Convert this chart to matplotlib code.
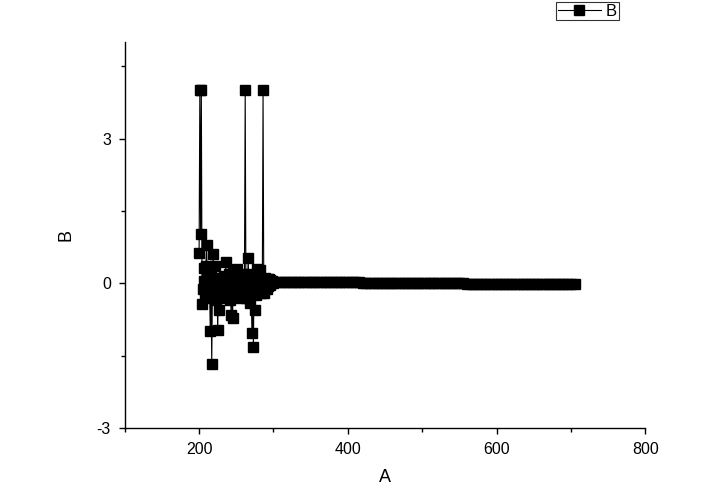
import numpy as np
import matplotlib
matplotlib.use("Agg")
import matplotlib.pyplot as plt

plt.rcParams["font.family"] = ["Liberation Sans", "DejaVu Sans"]
plt.rcParams["axes.unicode_minus"] = False

# noisy part, 1 unit steps
a_head = np.arange(200, 301)
b_head = [
    0.63, 4.0, 1.02, 4.0, -0.42, -0.12, 0.05, 0.32, -0.25, 0.35,
    0.80, 0.10, -0.30, 0.20, -0.05, -0.98, 0.15, -1.67, 0.02, 0.60,
    -0.20, 0.36, 0.08, -0.35, 0.12, -0.97, -0.10, -0.55, 0.05, -0.20,
    0.10, -0.15, 0.00, -0.30, 0.15, -0.08, 0.44, -0.20, 0.10, -0.10,
    0.20, -0.35, 0.05, -0.66, 0.12, -0.72, 0.25, -0.05, 0.18, -0.25,
    0.08, 0.30, -0.10, 0.05, -0.20, 0.15, -0.30, 0.10, -0.15, 0.20,
    -0.05, 0.12, 4.0, -0.30, 0.10, -0.20, 0.52, -0.10, 0.20, -0.40,
    0.05, -1.03, -0.20, -1.32, 0.15, -0.55, 0.08, -0.25, 0.30, -0.10,
    0.05, -0.15, 0.27, -0.20, 0.10, -0.05, 4.0, -0.20, 0.12, -0.08,
    0.06, -0.12, 0.08, -0.05, 0.10, -0.04, 0.06, 0.02, 0.04, 0.01,
    0.03,
]

# flat tail, 5 unit steps
a_tail = np.arange(305, 706, 5)
b_tail = [
    0.03, 0.02, 0.03, 0.02, 0.02, 0.03, 0.02, 0.02, 0.02, 0.02,
    0.02, 0.02, 0.02, 0.02, 0.02, 0.02, 0.02, 0.02, 0.02, 0.02,
    0.02, 0.02, 0.02, 0.01, 0.00, 0.00, 0.00, 0.00, 0.00, 0.00,
    0.00, 0.00, 0.00, 0.00, 0.00, 0.00, 0.00, 0.00, 0.00, 0.00,
    0.00, 0.00, 0.00, 0.00, 0.00, 0.00, 0.00, 0.00, 0.00, 0.00,
    0.00, -0.01, -0.02, -0.02, -0.02, -0.02, -0.02, -0.02, -0.02, -0.02,
    -0.02, -0.02, -0.02, -0.02, -0.02, -0.02, -0.02, -0.02, -0.02, -0.02,
    -0.02, -0.02, -0.02, -0.02, -0.02, -0.02, -0.02, -0.02, -0.02, -0.02,
    -0.02,
]

a = np.concatenate([a_head, a_tail])
b = np.concatenate([b_head, b_tail])

fig = plt.figure(figsize=(7.21, 4.96), dpi=100)
ax = fig.add_axes([0.173, 0.137, 0.722, 0.778])

ax.plot(a, b, color="black", lw=0.8, marker="s", markersize=7,
        markerfacecolor="black", markeredgecolor="black", label="B")

ax.set_xlim(100, 800)
ax.set_ylim(-3, 5)
ax.set_xticks([200, 400, 600, 800])
ax.set_xticks([100, 300, 500, 700], minor=True)
ax.set_yticks([-3, 0, 3])
ax.set_yticks([-1.5, 1.5, 4.5], minor=True)

for s in ("top", "right"):
    ax.spines[s].set_visible(False)
for s in ("left", "bottom"):
    ax.spines[s].set_linewidth(1.0)

ax.tick_params(which="major", direction="out", length=4, width=1,
               labelsize=11.5, pad=6)
ax.tick_params(which="minor", direction="out", length=3, width=1)

ax.set_xlabel("A", fontsize=13, labelpad=9)
ax.set_ylabel("B", fontsize=13, labelpad=16)

leg = fig.legend(loc="upper left", bbox_to_anchor=(0.771, 0.996),
                 fontsize=12, frameon=True, fancybox=False,
                 handlelength=2.6, borderpad=0.1, handletextpad=0.3,
                 borderaxespad=0)
leg.get_frame().set_edgecolor("black")
leg.get_frame().set_linewidth(0.8)

fig.savefig("out.png", dpi=100)
